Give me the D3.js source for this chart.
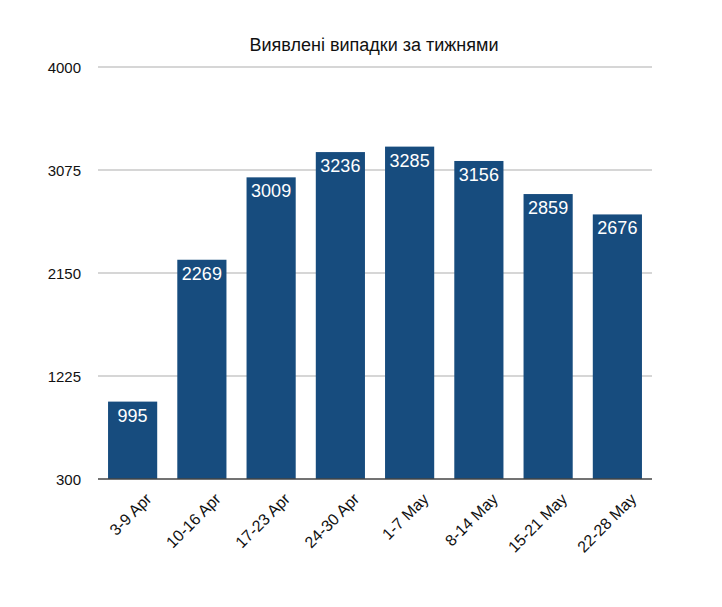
<!DOCTYPE html>
<html>
<head>
<meta charset="utf-8">
<script src="https://unpkg.com/d3@7/dist/d3.min.js"></script>
<style>
  body { margin: 0; background: #fff; }
  text { font-family: "Liberation Sans", Arial, sans-serif; }
</style>
</head>
<body>
<div id="chart"></div>
<script>
var weeks = ["3-9 Apr", "10-16 Apr", "17-23 Apr", "24-30 Apr", "1-7 May", "8-14 May", "15-21 May", "22-28 May"];
var cases = [995, 2269, 3009, 3236, 3285, 3156, 2859, 2676];
var yTicks = [300, 1225, 2150, 3075, 4000];
var title = "Виявлені випадки за тижнями";

var width = 722, height = 607;
var margin = {top: 67, right: 70, bottom: 128, left: 98};

var svg = d3.select("#chart").append("svg")
  .attr("width", width)
  .attr("height", height);

var x = d3.scaleBand()
  .domain(weeks)
  .range([margin.left, width - margin.right])
  .paddingInner(0.29)
  .paddingOuter(0.145);

var y = d3.scaleLinear()
  .domain([300, 4000])
  .range([height - margin.bottom, margin.top]);

svg.append("text")
  .attr("x", 374)
  .attr("y", 51)
  .attr("text-anchor", "middle")
  .style("font-size", "18px")
  .style("fill", "#111")
  .text(title);

// grid lines
svg.append("g")
  .selectAll("line")
  .data(yTicks.slice(1))
  .join("line")
  .attr("x1", margin.left)
  .attr("x2", width - margin.right)
  .attr("y1", d => y(d))
  .attr("y2", d => y(d))
  .attr("stroke", "#c8c8c8")
  .attr("stroke-width", 1.5);

var yAxis = svg.append("g")
  .attr("transform", "translate(" + margin.left + ",0)")
  .call(d3.axisLeft(y).tickValues(yTicks).tickFormat(d3.format("d")).tickSize(0).tickPadding(17));
yAxis.select(".domain").remove();
yAxis.selectAll("text")
  .style("font-size", "15px")
  .style("fill", "#111")
  .attr("dy", "0.35em");

svg.append("g")
  .selectAll("rect")
  .data(cases)
  .join("rect")
  .attr("x", (d, i) => x(weeks[i]))
  .attr("width", x.bandwidth())
  .attr("y", d => y(d))
  .attr("height", d => y(300) - y(d))
  .attr("fill", "#174c7e");

svg.append("g")
  .selectAll("text")
  .data(cases)
  .join("text")
  .attr("x", (d, i) => x(weeks[i]) + x.bandwidth() / 2)
  .attr("y", d => y(d) + 20)
  .attr("text-anchor", "middle")
  .style("font-size", "18px")
  .style("fill", "#fff")
  .text(d => d);

// baseline
svg.append("line")
  .attr("x1", margin.left)
  .attr("x2", width - margin.right)
  .attr("y1", y(300))
  .attr("y2", y(300))
  .attr("stroke", "#444")
  .attr("stroke-width", 1.5);

var xAxis = svg.append("g")
  .attr("transform", "translate(0," + y(300) + ")")
  .call(d3.axisBottom(x).tickSize(0).tickPadding(0));
xAxis.select(".domain").remove();
xAxis.selectAll("text")
  .style("font-size", "16px")
  .style("fill", "#111")
  .attr("text-anchor", "end")
  .attr("dy", 0)
  .attr("y", 0)
  .attr("transform", "translate(20,21) rotate(-45)");
</script>
</body>
</html>
